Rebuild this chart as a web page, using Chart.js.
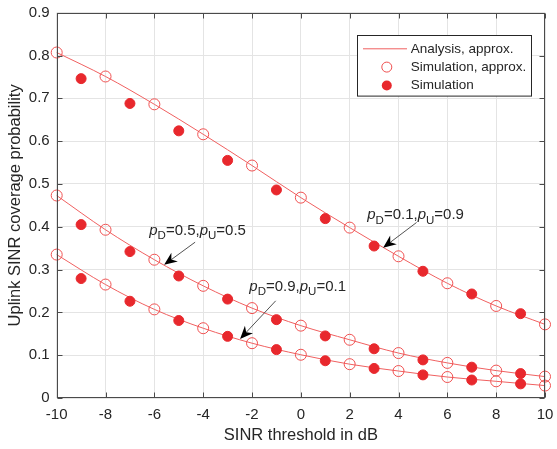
<!DOCTYPE html>
<html>
<head>
<meta charset="utf-8">
<script src="https://cdn.jsdelivr.net/npm/chart.js@4.4.1/dist/chart.umd.min.js"></script>
<style>
html,body{margin:0;padding:0;background:#fff;}
#wrap{width:557px;height:449px;position:relative;}
</style>
</head>
<body>
<div id="wrap"><canvas id="c"></canvas></div>
<script>
// ---- data ----
const xEven = [-10,-8,-6,-4,-2,0,2,4,6,8,10];
const xOdd  = [-9,-7,-5,-3,-1,1,3,5,7,9];
const xTicks = [-10,-8,-6,-4,-2,0,2,4,6,8,10];
const yTicks = [0,0.1,0.2,0.3,0.4,0.5,0.6,0.7,0.8,0.9];

// pD=0.1, pU=0.9
const approx_01 = [0.807,0.751,0.686,0.616,0.543,0.468,0.398,0.331,0.268,0.215,0.172];
const sim_01    = [0.746,0.688,0.624,0.555,0.486,0.419,0.355,0.296,0.243,0.197];
// pD=0.5, pU=0.5
const approx_05 = [0.473,0.393,0.323,0.262,0.210,0.169,0.136,0.105,0.082,0.064,0.050];
const sim_05    = [0.405,0.342,0.285,0.231,0.183,0.145,0.115,0.089,0.072,0.057];
// pD=0.9, pU=0.1
const approx_09 = [0.335,0.265,0.207,0.163,0.128,0.101,0.079,0.063,0.049,0.039,0.029];
const sim_09    = [0.279,0.226,0.181,0.144,0.113,0.087,0.069,0.054,0.042,0.033];

const legendLabels = ['Analysis, approx.','Simulation, approx.','Simulation'];
const xTitle = 'SINR threshold in dB';
const yTitle = 'Uplink SINR coverage probability';

// annotations: [textX, textY, tailX, tailY, tipX, tipY, pD, pU]
const annotations = [
  [-6.21, 0.381, -4.33, 0.364, -5.60, 0.311, '0.5', '0.5'],
  [-2.11, 0.250, -1.03, 0.227, -2.49, 0.138, '0.9', '0.1'],
  [ 2.72, 0.418,  4.74, 0.410,  3.37, 0.351, '0.1', '0.9']
];

// ---- styles ----
const FONT = '"Liberation Sans", Arial, Helvetica, sans-serif';
const TXT = '#262626';
const LINE_C = 'rgb(240,96,96)';
const OPEN_C = 'rgb(240,80,80)';
const FILL_C = 'rgb(232,40,45)';

const pts = (xs, ys) => xs.map((x,i)=>({x:x,y:ys[i]}));

function lineDs(ys, label){
  return {label:label, data:pts(xEven, ys), borderColor:LINE_C, borderWidth:1,
    pointRadius:0, pointHoverRadius:0, fill:false, cubicInterpolationMode:'monotone', order:3, clip:false};
}
function openDs(ys, label){
  return {label:label, data:pts(xEven, ys), showLine:false, pointStyle:'circle',
    pointRadius:5.5, pointBorderWidth:1, pointBorderColor:OPEN_C, pointBackgroundColor:'rgba(0,0,0,0)',
    borderColor:OPEN_C, backgroundColor:'rgba(0,0,0,0)', order:2, clip:false};
}
function fillDs(ys, label){
  return {label:label, data:pts(xOdd, ys), showLine:false, pointStyle:'circle',
    pointRadius:5, pointBorderWidth:1, pointBorderColor:FILL_C, pointBackgroundColor:FILL_C,
    borderColor:FILL_C, backgroundColor:FILL_C, order:1, clip:false};
}

const datasets = [
  lineDs(approx_01, legendLabels[0]), lineDs(approx_05, ''), lineDs(approx_09, ''),
  openDs(approx_01, legendLabels[1]), openDs(approx_05, ''), openDs(approx_09, ''),
  fillDs(sim_01, legendLabels[2]), fillDs(sim_05, ''), fillDs(sim_09, '')
];

function drawArrow(ctx, x1, y1, x2, y2){
  ctx.save();
  ctx.strokeStyle = '#262626'; ctx.fillStyle = '#000';
  ctx.lineWidth = 0.8;
  const dx = x2-x1, dy = y2-y1, len = Math.hypot(dx,dy);
  const ux = dx/len, uy = dy/len, nx = -uy, ny = ux;
  const L = 13, W = 5.5, N = 4;
  ctx.beginPath(); ctx.moveTo(x1,y1); ctx.lineTo(x2-ux*(L-N), y2-uy*(L-N)); ctx.stroke();
  ctx.beginPath();
  ctx.moveTo(x2,y2);
  ctx.lineTo(x2-ux*L+nx*W, y2-uy*L+ny*W);
  ctx.lineTo(x2-ux*(L-N), y2-uy*(L-N));
  ctx.lineTo(x2-ux*L-nx*W, y2-uy*L-ny*W);
  ctx.closePath(); ctx.fill();
  ctx.restore();
}

function drawPLabel(ctx, x, y, pD, pU){
  ctx.save();
  ctx.fillStyle = TXT; ctx.textBaseline = 'alphabetic'; ctx.textAlign = 'left';
  const main = '15px ' + FONT, ital = 'italic 15px ' + FONT, sub = '11.5px ' + FONT;
  const parts = [['p',ital,0],['D',sub,4.5],['=' + pD + ',',main,0],['p',ital,0],['U',sub,4.5],['=' + pU,main,0]];
  let cx = x;
  for (const [t,f,dy] of parts){
    ctx.font = f; ctx.fillText(t, cx, y+dy); cx += ctx.measureText(t).width;
  }
  ctx.restore();
}

const framePlugin = {
  id:'frame',
  afterDatasetsDraw(chart){
    const {ctx, chartArea:ca, scales:{x, y}} = chart;
    ctx.save();
    // annotations
    for (const a of annotations){
      drawArrow(ctx, x.getPixelForValue(a[2]), y.getPixelForValue(a[3]), x.getPixelForValue(a[4]), y.getPixelForValue(a[5]));
      drawPLabel(ctx, x.getPixelForValue(a[0]), y.getPixelForValue(a[1]), a[6], a[7]);
    }
    // frame
    ctx.strokeStyle = '#4a4a4a'; ctx.lineWidth = 1;
    const L = Math.round(ca.left)+0.5, R = Math.round(ca.right)-0.5, T = Math.round(ca.top)+0.5, B = Math.round(ca.bottom)-0.5;
    ctx.strokeRect(L, T, R-L, B-T);
    const tl = 5;
    ctx.beginPath();
    for (const v of xTicks){
      const px = Math.round(x.getPixelForValue(v))+0.5;
      ctx.moveTo(px, B); ctx.lineTo(px, B-tl);
      ctx.moveTo(px, T); ctx.lineTo(px, T+tl);
    }
    for (const v of yTicks){
      const py = Math.round(y.getPixelForValue(v))+0.5;
      ctx.moveTo(L, py); ctx.lineTo(L+tl, py);
      ctx.moveTo(R, py); ctx.lineTo(R-tl, py);
    }
    ctx.stroke();
    // legend
    const bw = 174, bh = 60.6;
    const bx = Math.round(ca.right - 14.3 - bw)+0.5, by = Math.round(ca.top + 22)+0.5;
    ctx.fillStyle = '#fff'; ctx.fillRect(bx, by, bw, bh);
    ctx.strokeStyle = '#262626'; ctx.strokeRect(bx, by, bw, bh);
    const rows = [by+13.3, by+31.6, by+50];
    const mx = bx + 29.3;
    ctx.strokeStyle = LINE_C; ctx.lineWidth = 1;
    ctx.beginPath(); ctx.moveTo(bx+5.5, rows[0]); ctx.lineTo(bx+49.5, rows[0]); ctx.stroke();
    ctx.beginPath(); ctx.arc(mx, rows[1], 5, 0, Math.PI*2); ctx.strokeStyle = OPEN_C; ctx.stroke();
    ctx.beginPath(); ctx.arc(mx, rows[2], 5, 0, Math.PI*2); ctx.fillStyle = FILL_C; ctx.fill();
    ctx.fillStyle = TXT; ctx.font = '13.5px ' + FONT; ctx.textBaseline = 'middle'; ctx.textAlign = 'left';
    legendLabels.forEach((t,i)=>ctx.fillText(t, bx+53.3, rows[i]));
    ctx.restore();
  }
};

new Chart(document.getElementById('c'), {
  type:'line',
  data:{datasets:datasets},
  options:{
    responsive:true, maintainAspectRatio:false, animation:false,
    layout:{padding:{top:12.7, right:12, left:0, bottom:0}},
    plugins:{legend:{display:false}, tooltip:{enabled:false}},
    scales:{
      x:{type:'linear', min:-10, max:10,
        afterBuildTicks(s){ s.ticks = xTicks.map(v=>({value:v})); },
        afterFit(s){ s.height = 51; s.paddingLeft = 0; s.paddingRight = 0; },
        ticks:{font:{family:FONT, size:15}, color:TXT, padding:8, maxRotation:0,
          callback:(v)=>String(v)},
        grid:{color:'#e4e4e4', drawTicks:false, lineWidth:1},
        border:{display:false},
        title:{display:true, text:xTitle, font:{family:FONT, size:16.5}, color:TXT, padding:{top:0,bottom:3.6}}
      },
      y:{type:'linear', min:0, max:0.9,
        afterBuildTicks(s){ s.ticks = yTicks.map(v=>({value:v})); },
        afterFit(s){ s.width = 56.7; s.paddingTop = 0; s.paddingBottom = 0; },
        ticks:{font:{family:FONT, size:15}, color:TXT, padding:7,
          callback:(v)=>String(Math.round(v*10)/10)},
        grid:{color:'#e4e4e4', drawTicks:false, lineWidth:1},
        border:{display:false},
        title:{display:true, text:yTitle, font:{family:FONT, size:16.5}, color:TXT, padding:{top:6,bottom:0}}
      }
    }
  },
  plugins:[framePlugin]
});
</script>
</body>
</html>
